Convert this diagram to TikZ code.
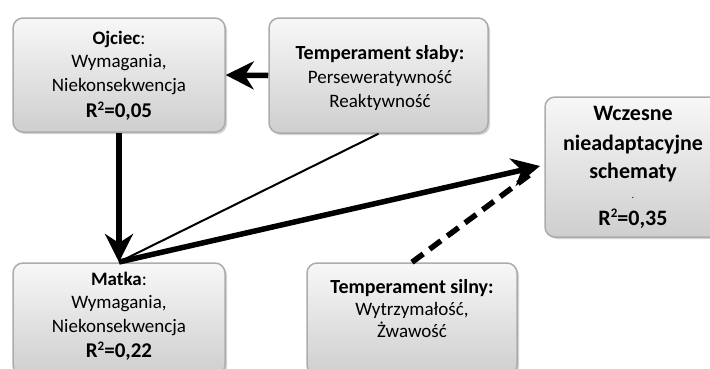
\documentclass[tikz,border=0pt]{standalone}
\usepackage{fontspec}
\setmainfont{Carlito}
\usetikzlibrary{arrows.meta,shadows}
\newcommand{\rsq}{R\raisebox{0.36em}{\fontsize{13}{13}\selectfont 2}}
\begin{document}
\begin{tikzpicture}[x=1pt,y=-1pt,
  box/.style={rounded corners=10pt, top color=gray!6, bottom color=gray!38,
    draw=gray!65, line width=1.5pt,
    drop shadow={shadow xshift=2pt,shadow yshift=-2pt,opacity=0.35},
    inner sep=0pt},
  txt/.style={align=center, font=\fontsize{19}{22}\selectfont, inner sep=0pt},
  bigtxt/.style={align=center, font=\fontsize{22}{28}\selectfont\bfseries, inner sep=0pt},
  tip/.style={-{Stealth[length=28pt,width=28pt,inset=9pt]}},
  thickline/.style={line width=5.5pt},
  thinline/.style={line width=2pt},
  dashline/.style={line width=5.5pt, dash pattern=on 14pt off 8pt}
]
\useasboundingbox (0,0) rectangle (710,368);

% boxes
\node[box, minimum width=212pt, minimum height=114pt] (ojciec) at (119,75) {};
\node[box, minimum width=219pt, minimum height=115pt] (slaby) at (378.5,75.5) {};
\node[box, minimum width=180pt, minimum height=140pt] (wczesne) at (635,167) {};
\node[box, minimum width=212pt, minimum height=112pt] (matka) at (119,319) {};
\node[box, minimum width=210pt, minimum height=112pt] (silny) at (412,319) {};

% texts
\node[txt] (ojciecT) at (119,76) {{\bfseries Ojciec}:\\[1pt]Wymagania,\\[2pt]Niekonsekwencja\\[4pt]{\fontsize{21}{24}\selectfont\bfseries \rsq=0,05}};
\node[txt] (slabyT) at (380,78.5) {{\fontsize{20}{22}\selectfont\bfseries Temperament słaby:}\\[2pt]Perseweratywność\\[2pt]Reaktywność};
\node[bigtxt] (wczesneT) at (633,167.5) {Wczesne\\[2pt]nieadaptacyjne\\schematy\\[-8pt]{\fontsize{8}{14}\selectfont .}\\[-1pt]\rsq=0,35};
\node[txt] (matkaT) at (119,316.5) {{\bfseries Matka}:\\[1pt]Wymagania,\\[2pt]Niekonsekwencja\\[3pt]{\fontsize{21}{24}\selectfont\bfseries \rsq=0,22}};
\node[txt] (silnyT) at (412,309) {{\fontsize{20}{22}\selectfont\bfseries Temperament silny:}\\Wytrzymałość,\\Żwawość};

% connectors
\coordinate (mtop) at (119,262);
\coordinate (wtip) at (540,166);
\coordinate (dend) at (532,173);

\draw[thickline, tip] (slaby.west) -- (ojciec.east);
\draw[thickline, tip] (ojciec.south) -- (mtop);
\draw[thinline] (slaby.south) -- (mtop);
\draw[thickline, tip] (mtop) -- (wtip);
\draw[dashline] (silny.north) -- (dend);
\end{tikzpicture}
\end{document}
